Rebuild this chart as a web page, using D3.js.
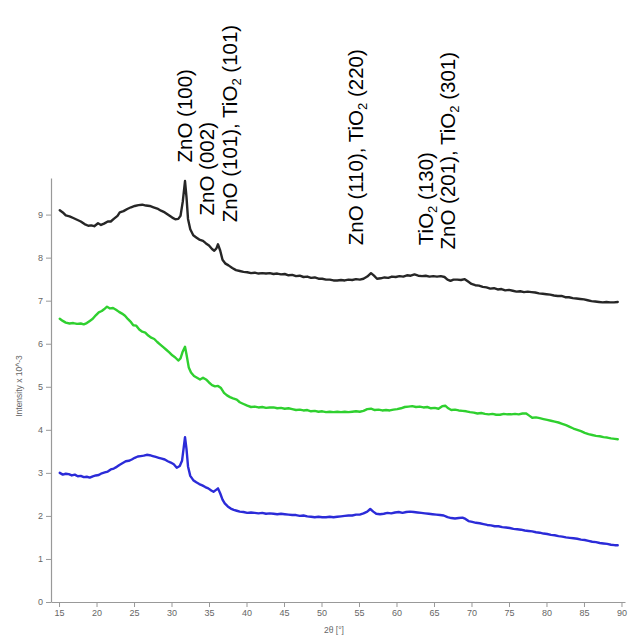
<!DOCTYPE html>
<html>
<head>
<meta charset="utf-8">
<script src="https://cdn.jsdelivr.net/npm/d3@7"></script>
<style>
  html, body { margin: 0; padding: 0; background: #fff; }
  svg { display: block; }
  .axis text { font-family: "Liberation Sans", Arial, sans-serif; font-size: 9px; fill: #666; }
  .axis path, .axis line { stroke: #999; }
</style>
</head>
<body>
<svg id="chart" width="635" height="635"></svg>
<script>
// XRD patterns: [2θ (deg), intensity ×10^-3]
const patternTop = [
  [15.1,9.10],[15.5,9.05],[15.9,8.98],[16.4,8.96],[16.9,8.92],[17.4,8.88],[17.9,8.84],[18.4,8.78],[18.9,8.74],[19.3,8.75],
  [19.7,8.73],[20.2,8.80],[20.6,8.76],[21.0,8.79],[21.5,8.84],[21.9,8.84],[22.3,8.90],[22.8,8.97],[23.1,9.05],[23.6,9.08],
  [24.1,9.13],[24.6,9.17],[25.1,9.20],[25.6,9.22],[26.1,9.23],[26.6,9.21],[27.1,9.20],[27.6,9.17],[28.1,9.14],[28.6,9.09],
  [29.1,9.05],[29.6,8.99],[30.1,8.93],[30.5,8.89],[30.9,8.90],[31.2,8.97],[31.5,9.30],[31.8,9.78],[32.0,9.40],[32.2,8.90],
  [32.5,8.66],[32.9,8.52],[33.3,8.47],[33.7,8.42],[34.2,8.39],[34.6,8.33],[35.0,8.28],[35.4,8.20],[35.7,8.16],[36.0,8.22],
  [36.2,8.31],[36.5,8.16],[36.8,7.95],[37.2,7.86],[37.6,7.82],[38.1,7.76],[38.6,7.71],[39.1,7.69],[39.6,7.67],[40.1,7.66],
  [40.6,7.64],[41.1,7.65],[41.6,7.63],[42.1,7.64],[42.6,7.63],[43.1,7.64],[43.6,7.62],[44.1,7.63],[44.6,7.61],[45.1,7.62],
  [45.6,7.59],[46.1,7.60],[46.6,7.57],[47.1,7.58],[47.6,7.55],[48.1,7.56],[48.6,7.53],[49.1,7.54],[49.6,7.51],[50.1,7.51],
  [50.6,7.49],[51.1,7.49],[51.6,7.47],[52.1,7.47],[52.6,7.48],[53.1,7.47],[53.6,7.49],[54.1,7.48],[54.6,7.50],[55.1,7.49],
  [55.6,7.51],[56.1,7.56],[56.6,7.64],[57.0,7.58],[57.4,7.51],[57.9,7.52],[58.4,7.54],[58.9,7.53],[59.4,7.56],[59.9,7.55],
  [60.4,7.57],[60.9,7.56],[61.4,7.59],[61.9,7.58],[62.4,7.61],[62.9,7.58],[63.4,7.57],[63.9,7.58],[64.4,7.56],[64.9,7.57],
  [65.4,7.56],[65.9,7.57],[66.4,7.55],[66.8,7.49],[67.2,7.46],[67.6,7.49],[68.1,7.49],[68.6,7.48],[69.1,7.50],[69.5,7.45],
  [70.0,7.39],[70.5,7.36],[71.0,7.35],[71.5,7.32],[72.0,7.31],[72.5,7.28],[73.0,7.29],[73.5,7.26],[74.0,7.27],[74.5,7.24],
  [75.0,7.25],[75.5,7.23],[76.0,7.21],[76.5,7.22],[77.0,7.20],[77.5,7.21],[78.0,7.20],[78.5,7.19],[79.0,7.17],[79.5,7.16],
  [80.0,7.15],[80.5,7.14],[81.0,7.12],[81.5,7.11],[82.0,7.11],[82.5,7.08],[83.0,7.08],[83.5,7.06],[84.0,7.05],[84.5,7.04],
  [85.0,7.03],[85.5,7.01],[86.0,6.99],[86.5,6.98],[87.0,6.97],[87.5,6.96],[88.0,6.97],[88.5,6.96],[89.0,6.96],[89.5,6.97]
];

const patternMiddle = [
  [15.1,6.58],[15.5,6.53],[15.9,6.49],[16.4,6.47],[16.9,6.48],[17.4,6.46],[17.9,6.47],[18.3,6.45],[18.7,6.48],[19.1,6.53],
  [19.5,6.58],[19.9,6.66],[20.3,6.73],[20.7,6.76],[21.0,6.80],[21.4,6.86],[21.8,6.82],[22.2,6.83],[22.6,6.79],[23.0,6.74],
  [23.4,6.70],[23.8,6.65],[24.2,6.57],[24.6,6.50],[24.9,6.43],[25.3,6.42],[25.7,6.33],[26.1,6.28],[26.5,6.26],[26.9,6.19],
  [27.3,6.14],[27.7,6.11],[28.1,6.04],[28.5,5.98],[28.9,5.92],[29.3,5.86],[29.7,5.80],[30.1,5.73],[30.5,5.68],[30.9,5.61],
  [31.2,5.66],[31.5,5.82],[31.8,5.93],[32.0,5.75],[32.3,5.45],[32.6,5.33],[33.0,5.25],[33.4,5.21],[33.8,5.17],[34.2,5.21],
  [34.6,5.17],[35.0,5.10],[35.4,5.04],[35.8,5.01],[36.2,5.02],[36.6,4.97],[37.0,4.86],[37.4,4.80],[37.8,4.76],[38.2,4.73],
  [38.7,4.70],[39.1,4.64],[39.6,4.60],[40.1,4.56],[40.6,4.53],[41.1,4.54],[41.6,4.52],[42.1,4.53],[42.6,4.51],[43.1,4.52],
  [43.6,4.52],[44.1,4.50],[44.6,4.51],[45.1,4.49],[45.6,4.50],[46.1,4.48],[46.6,4.46],[47.1,4.47],[47.6,4.45],[48.1,4.46],
  [48.6,4.43],[49.1,4.44],[49.6,4.42],[50.1,4.43],[50.6,4.41],[51.1,4.42],[51.6,4.41],[52.1,4.42],[52.6,4.41],[53.1,4.42],
  [53.6,4.41],[54.1,4.42],[54.6,4.43],[55.1,4.42],[55.6,4.44],[56.1,4.48],[56.6,4.49],[57.1,4.46],[57.6,4.47],[58.1,4.45],
  [58.6,4.46],[59.1,4.45],[59.6,4.47],[60.1,4.48],[60.6,4.50],[61.1,4.53],[61.6,4.54],[62.1,4.55],[62.6,4.53],[63.1,4.54],
  [63.6,4.52],[64.1,4.53],[64.6,4.50],[65.1,4.51],[65.6,4.49],[66.1,4.55],[66.5,4.56],[66.9,4.50],[67.3,4.46],[67.8,4.47],
  [68.3,4.45],[68.8,4.44],[69.3,4.43],[69.8,4.41],[70.3,4.40],[70.8,4.38],[71.3,4.39],[71.8,4.37],[72.3,4.36],[72.8,4.37],
  [73.3,4.35],[73.8,4.35],[74.3,4.37],[74.8,4.36],[75.3,4.36],[75.8,4.37],[76.3,4.36],[76.8,4.38],[77.3,4.38],[77.7,4.33],
  [78.1,4.28],[78.6,4.29],[79.1,4.27],[79.6,4.25],[80.1,4.23],[80.6,4.21],[81.1,4.19],[81.6,4.17],[82.1,4.14],[82.6,4.11],
  [83.1,4.07],[83.6,4.03],[84.1,4.00],[84.6,3.97],[85.1,3.93],[85.6,3.90],[86.1,3.88],[86.6,3.86],[87.1,3.85],[87.6,3.83],
  [88.1,3.82],[88.6,3.80],[89.1,3.79],[89.5,3.78]
];

const patternBottom = [
  [15.1,3.00],[15.5,2.96],[15.9,2.98],[16.3,2.97],[16.7,2.94],[17.1,2.96],[17.5,2.92],[17.9,2.93],[18.3,2.90],[18.7,2.91],
  [19.1,2.89],[19.5,2.92],[19.9,2.94],[20.3,2.95],[20.7,2.99],[21.1,3.01],[21.5,3.03],[21.9,3.08],[22.3,3.10],[22.7,3.14],
  [23.1,3.19],[23.5,3.23],[23.9,3.27],[24.3,3.28],[24.7,3.31],[25.1,3.35],[25.5,3.38],[25.9,3.39],[26.3,3.40],[26.7,3.42],
  [27.1,3.41],[27.5,3.39],[27.9,3.37],[28.3,3.35],[28.7,3.33],[29.1,3.31],[29.5,3.27],[29.9,3.24],[30.3,3.20],[30.7,3.12],
  [31.1,3.16],[31.4,3.28],[31.6,3.55],[31.8,3.83],[32.0,3.55],[32.2,3.15],[32.5,2.93],[32.9,2.83],[33.3,2.78],[33.7,2.74],
  [34.1,2.71],[34.5,2.67],[34.9,2.64],[35.3,2.59],[35.6,2.56],[35.9,2.60],[36.2,2.64],[36.5,2.52],[36.8,2.38],[37.1,2.29],
  [37.5,2.22],[37.9,2.17],[38.3,2.14],[38.7,2.12],[39.1,2.10],[39.6,2.09],[40.1,2.07],[40.6,2.08],[41.1,2.07],[41.6,2.06],
  [42.1,2.07],[42.6,2.05],[43.1,2.06],[43.6,2.05],[44.1,2.04],[44.6,2.05],[45.1,2.04],[45.6,2.03],[46.1,2.02],[46.6,2.02],
  [47.1,2.00],[47.6,2.01],[48.1,1.99],[48.6,1.98],[49.1,1.97],[49.6,1.98],[50.1,1.97],[50.6,1.97],[51.1,1.98],[51.6,1.97],
  [52.1,1.98],[52.6,1.99],[53.1,2.00],[53.6,2.01],[54.1,2.01],[54.6,2.03],[55.1,2.03],[55.6,2.06],[56.1,2.10],[56.5,2.16],
  [56.9,2.10],[57.3,2.05],[57.8,2.04],[58.3,2.05],[58.8,2.07],[59.3,2.06],[59.8,2.08],[60.3,2.09],[60.8,2.07],[61.3,2.09],
  [61.8,2.10],[62.3,2.09],[62.8,2.08],[63.3,2.07],[63.8,2.06],[64.3,2.05],[64.8,2.04],[65.3,2.03],[65.8,2.02],[66.3,2.01],
  [66.8,1.97],[67.3,1.95],[67.8,1.94],[68.3,1.95],[68.8,1.96],[69.2,1.93],[69.6,1.88],[70.1,1.86],[70.6,1.84],[71.1,1.83],
  [71.6,1.81],[72.1,1.79],[72.6,1.78],[73.1,1.76],[73.6,1.76],[74.1,1.74],[74.6,1.73],[75.1,1.72],[75.6,1.70],[76.1,1.69],
  [76.6,1.68],[77.1,1.66],[77.6,1.65],[78.1,1.64],[78.6,1.62],[79.1,1.61],[79.6,1.59],[80.1,1.58],[80.6,1.56],[81.1,1.55],
  [81.6,1.53],[82.1,1.52],[82.6,1.50],[83.1,1.49],[83.6,1.48],[84.1,1.47],[84.6,1.45],[85.1,1.44],[85.6,1.42],[86.1,1.40],
  [86.6,1.39],[87.1,1.37],[87.6,1.36],[88.1,1.35],[88.6,1.33],[89.1,1.32],[89.5,1.32]
];

const seriesColors = ["#262626", "#2fd02f", "#2b2bd8"];

const xTicks = [15, 20, 25, 30, 35, 40, 45, 50, 55, 60, 65, 70, 75, 80, 85, 90];
const yTicks = [0, 1, 2, 3, 4, 5, 6, 7, 8, 9];

// Reflection labels: text pieces (sub = subscript), anchored at a (2θ, intensity) position
const reflections = [
  { parts: [{ t: "ZnO (100)" }], at: [32.73, 10.21] },
  { parts: [{ t: "ZnO (002)" }], at: [35.67, 8.98] },
  { parts: [{ t: "ZnO (101), TiO" }, { t: "2", sub: true }, { t: " (101)" }], at: [38.73, 8.82] },
  { parts: [{ t: "ZnO (110), TiO" }, { t: "2", sub: true }, { t: " (220)" }], at: [55.53, 8.29] },
  { parts: [{ t: "TiO" }, { t: "2", sub: true }, { t: " (130)" }], at: [64.87, 8.29] },
  { parts: [{ t: "ZnO (201), TiO" }, { t: "2", sub: true }, { t: " (301)" }], at: [67.80, 8.19] }
];

const svg = d3.select("#chart");

const x = d3.scaleLinear().domain([13.93, 90.47]).range([51, 625]);
const y = d3.scaleLinear().domain([0, 9.85]).range([602, 178]);

// Axes
svg.append("g")
  .attr("class", "axis")
  .attr("transform", `translate(0,${y(0)})`)
  .call(d3.axisBottom(x).tickValues(xTicks).tickSize(5).tickSizeOuter(0).tickPadding(3));

svg.append("g")
  .attr("class", "axis")
  .attr("transform", `translate(${x(13.93)},0)`)
  .call(d3.axisLeft(y).tickValues(yTicks).tickSize(5).tickSizeOuter(0).tickPadding(3));

svg.selectAll(".axis .domain").attr("stroke", "#999").attr("stroke-width", 1.2);

// Axis titles
svg.append("text")
  .attr("x", 334).attr("y", 633)
  .attr("text-anchor", "middle")
  .attr("font-family", "Liberation Sans, Arial, sans-serif")
  .attr("font-size", 8.5).attr("fill", "#666")
  .text("2θ [°]");

svg.append("text")
  .attr("transform", "translate(22,386) rotate(-90)")
  .attr("text-anchor", "middle")
  .attr("font-family", "Liberation Sans, Arial, sans-serif")
  .attr("font-size", 8.5).attr("fill", "#666")
  .text("Intensity x 10^-3");

// Patterns
const line = d3.line().x(d => x(d[0])).y(d => y(d[1])).curve(d3.curveLinear);

[patternTop, patternMiddle, patternBottom].forEach((data, i) => {
  svg.append("path")
    .datum(data)
    .attr("fill", "none")
    .attr("stroke", seriesColors[i])
    .attr("stroke-width", 2.4)
    .attr("stroke-linejoin", "round")
    .attr("stroke-linecap", "round")
    .attr("d", line);
});

// Reflection annotations, vertical text
reflections.forEach(r => {
  const txt = svg.append("text")
    .attr("transform", `translate(${x(r.at[0])},${y(r.at[1])}) rotate(-90)`)
    .attr("font-family", "Liberation Sans, Arial, sans-serif")
    .attr("font-size", 20.5)
    .attr("fill", "#000");
  r.parts.forEach(p => {
    if (p.sub) {
      txt.append("tspan").attr("font-size", 13).attr("dy", 4).text(p.t);
    } else {
      const ts = txt.append("tspan").text(p.t);
      if (p !== r.parts[0]) ts.attr("dy", -4);
    }
  });
});
</script>
</body>
</html>
